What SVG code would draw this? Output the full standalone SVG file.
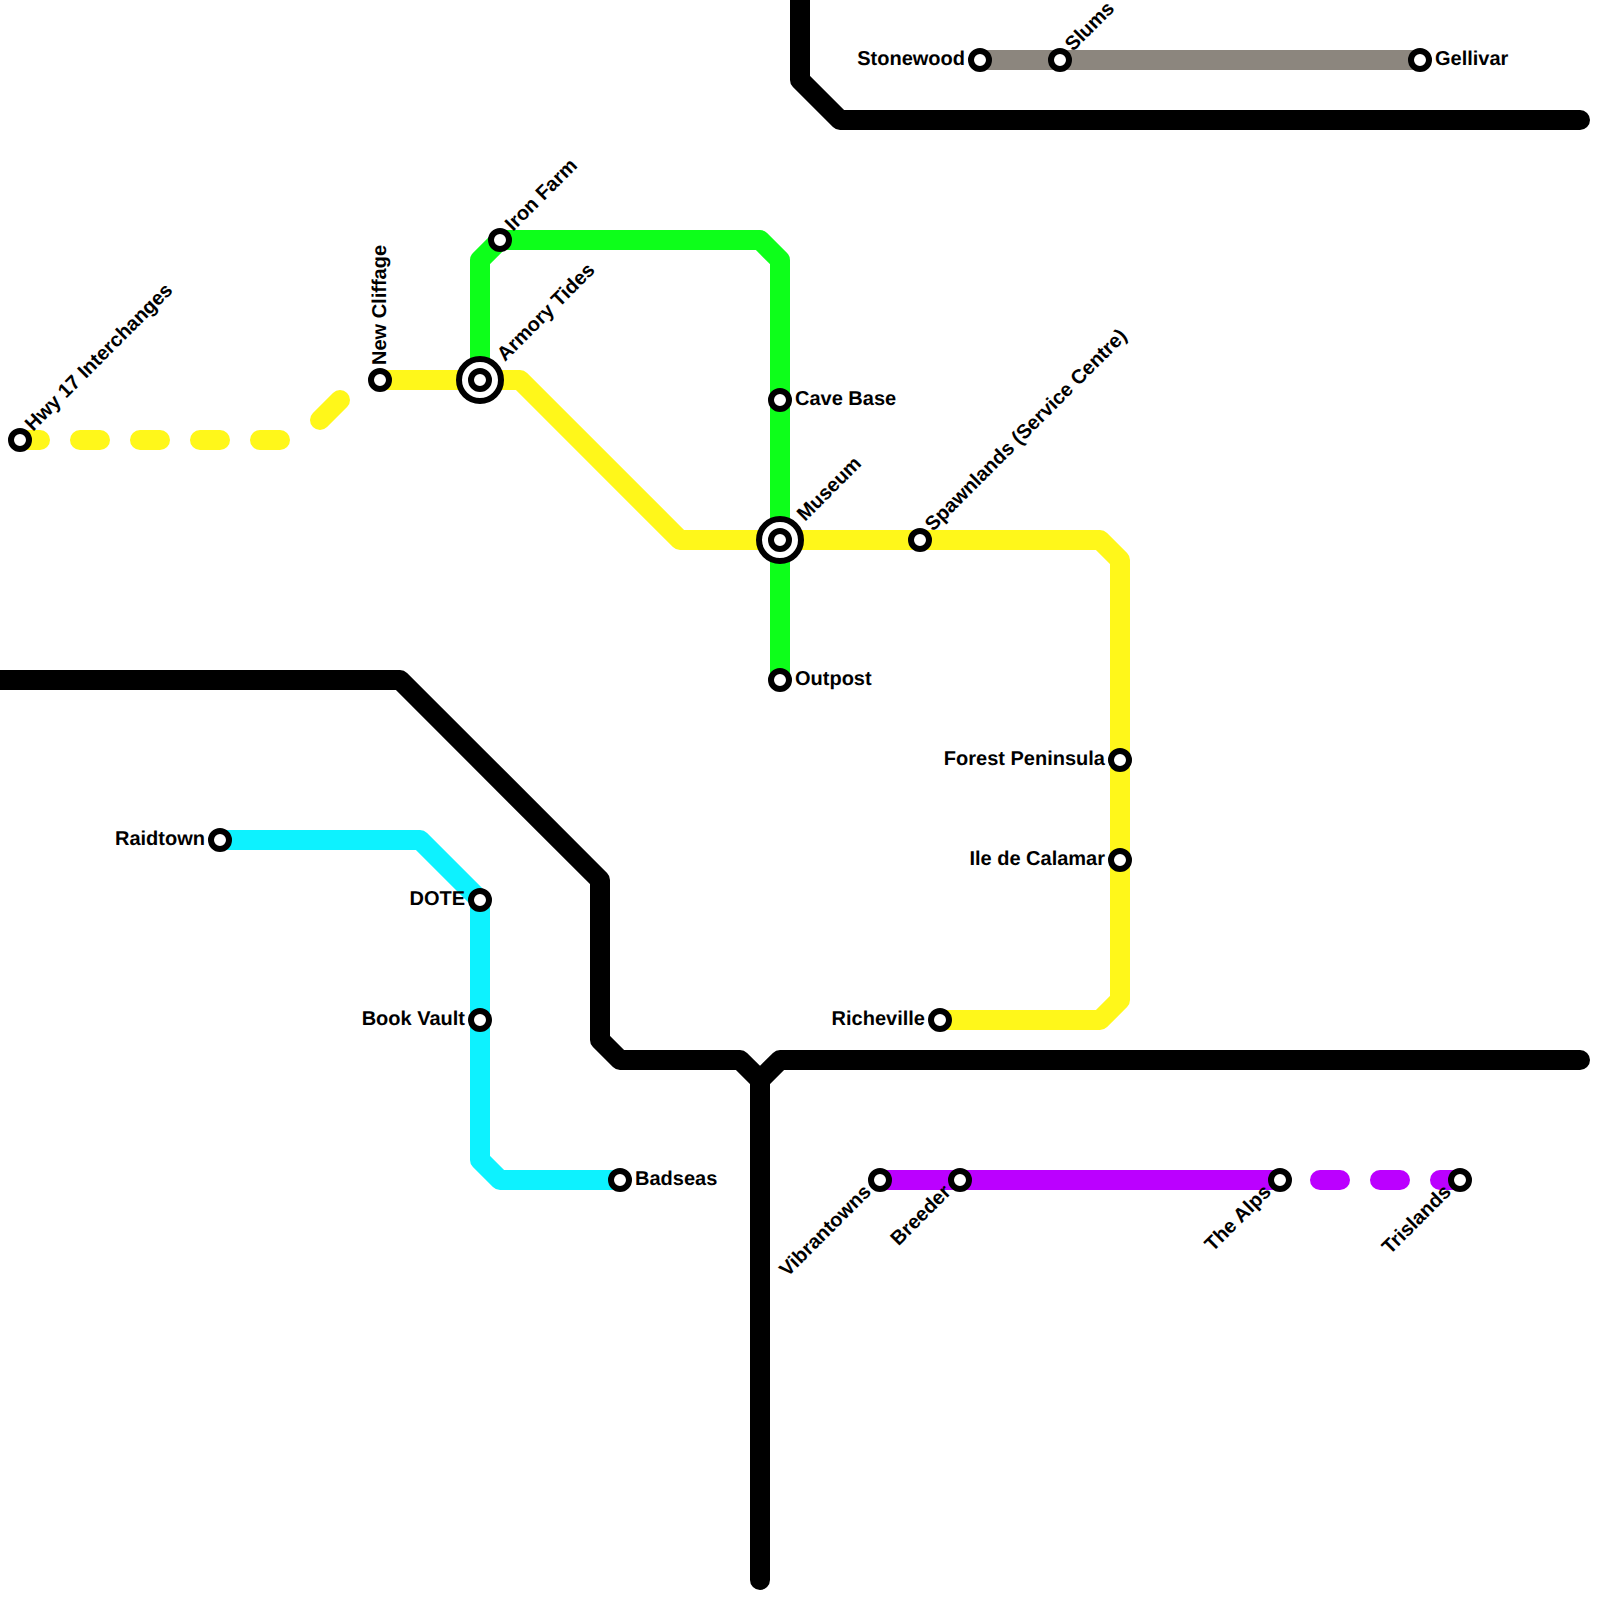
<svg xmlns="http://www.w3.org/2000/svg" width="1600" height="1600" viewBox="0 0 1600 1600">
<style>
.l{fill:none;stroke-width:20;stroke-linecap:round;stroke-linejoin:round}
.k{stroke:#000}.y{stroke:#fff71a}.g{stroke:#0dff1a}.c{stroke:#0df2ff}.p{stroke:#bb00ff}.s{stroke:#8c867e}
.st{fill:#fff;stroke:#000;stroke-width:6}
text{font-family:"Liberation Sans",Arial,sans-serif;font-weight:bold;font-size:20px;fill:#000;text-rendering:geometricPrecision}
.e{text-anchor:end}
</style>
<rect width="1600" height="1600" fill="#fff"/>
<g id="connectors">
<path class="l k" d="M800 -10V80L840 120H1580"/>
<path class="l k" d="M-10 680H400L600 880V1040L620 1060H740L760 1080V1580"/>
<path class="l k" d="M1580 1060H780L760 1080"/>
<path class="l s" d="M980 60H1420"/>
<path class="l g" d="M780 680V260L760 240H500L480 260V380"/>
<path class="l y" d="M380 380H520L680 540H1100L1120 560V1000L1100 1020H940"/>
<path class="l y" d="M20 440H280" stroke-dasharray="20 40"/>
<path class="l y" d="M320 420L340 400"/>
<path class="l c" d="M220 840H420L480 900V1160L500 1180H620"/>
<path class="l p" d="M880 1180H1280"/>
<path class="l p" d="M1320 1180H1340M1380 1180H1400M1440 1180H1460"/>
</g>
<g id="hwy17"><circle class="st" cx="20" cy="440" r="9"/><text transform="translate(33 432) rotate(-45)">Hwy 17 Interchanges</text></g>
<g id="newcliffage"><circle class="st" cx="380" cy="380" r="9"/><text transform="translate(386 365) rotate(-90)">New Cliffage</text></g>
<g id="armorytides"><circle class="st" cx="480" cy="380" r="21"/><circle class="st" cx="480" cy="380" r="9"/><text transform="translate(505 362) rotate(-45)">Armory Tides</text></g>
<g id="ironfarm"><circle class="st" cx="500" cy="240" r="9"/><text transform="translate(513 232) rotate(-45)">Iron Farm</text></g>
<g id="cavebase"><circle class="st" cx="780" cy="400" r="9"/><text x="795" y="405">Cave Base</text></g>
<g id="museum"><circle class="st" cx="780" cy="540" r="21"/><circle class="st" cx="780" cy="540" r="9"/><text transform="translate(805 522) rotate(-45)">Museum</text></g>
<g id="outpost"><circle class="st" cx="780" cy="680" r="9"/><text x="795" y="685">Outpost</text></g>
<g id="spawnlands"><circle class="st" cx="920" cy="540" r="9"/><text transform="translate(933 532) rotate(-45)">Spawnlands (Service Centre)</text></g>
<g id="forestpeninsula"><circle class="st" cx="1120" cy="760" r="9"/><text class="e" x="1105" y="765">Forest Peninsula</text></g>
<g id="iledecalamar"><circle class="st" cx="1120" cy="860" r="9"/><text class="e" x="1105" y="865">Ile de Calamar</text></g>
<g id="richeville"><circle class="st" cx="940" cy="1020" r="9"/><text class="e" x="925" y="1025">Richeville</text></g>
<g id="raidtown"><circle class="st" cx="220" cy="840" r="9"/><text class="e" x="205" y="845">Raidtown</text></g>
<g id="dote"><circle class="st" cx="480" cy="900" r="9"/><text class="e" x="465" y="905">DOTE</text></g>
<g id="bookvault"><circle class="st" cx="480" cy="1020" r="9"/><text class="e" x="465" y="1025">Book Vault</text></g>
<g id="badseas"><circle class="st" cx="620" cy="1180" r="9"/><text x="635" y="1185">Badseas</text></g>
<g id="vibrantowns"><circle class="st" cx="880" cy="1180" r="9"/><text class="e" transform="translate(872 1193) rotate(-45)">Vibrantowns</text></g>
<g id="breeder"><circle class="st" cx="960" cy="1180" r="9"/><text class="e" transform="translate(952 1193) rotate(-45)">Breeder</text></g>
<g id="thealps"><circle class="st" cx="1280" cy="1180" r="9"/><text class="e" transform="translate(1272 1193) rotate(-45)">The Alps</text></g>
<g id="trislands"><circle class="st" cx="1460" cy="1180" r="9"/><text class="e" transform="translate(1452 1193) rotate(-45)">Trislands</text></g>
<g id="stonewood"><circle class="st" cx="980" cy="60" r="9"/><text class="e" x="965" y="65">Stonewood</text></g>
<g id="slums"><circle class="st" cx="1060" cy="60" r="9"/><text transform="translate(1073 52) rotate(-45)">Slums</text></g>
<g id="gellivar"><circle class="st" cx="1420" cy="60" r="9"/><text x="1435" y="65">Gellivar</text></g>
</svg>
